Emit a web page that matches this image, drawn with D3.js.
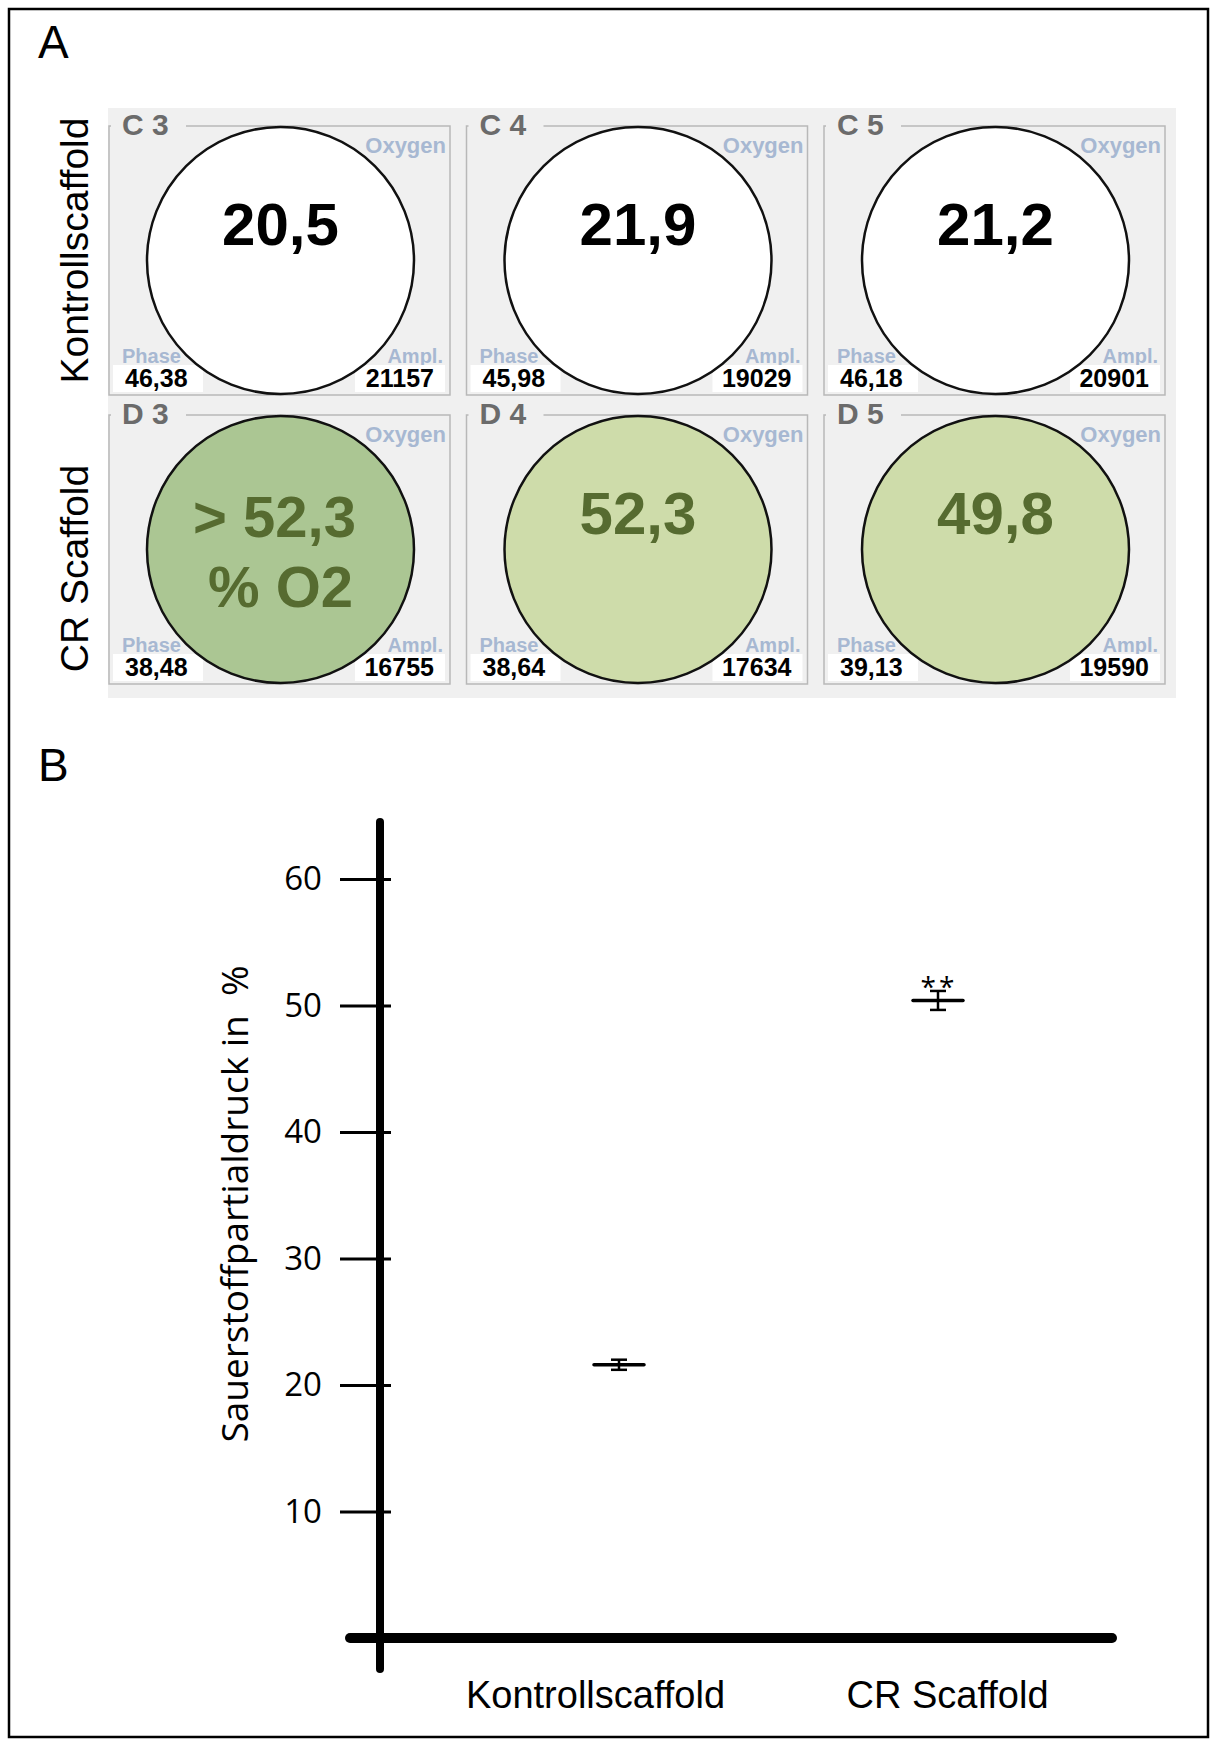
<!DOCTYPE html>
<html>
<head>
<meta charset="utf-8">
<script src="https://cdn.jsdelivr.net/npm/d3@7"></script>
<style>
body { margin: 0; background: #fff; }
svg text { font-family: "Liberation Sans", Arial, sans-serif; }
</style>
</head>
<body>
<div id="fig"></div>
<script>
//-----------------------------DATA-----------------------------//
// panel A: sensor plate readout
const wellRows = ["Kontrollscaffold", "CR Scaffold"];
const wellCols = ["3", "4", "5"];
const wellNames = ["C 3", "C 4", "C 5", "D 3", "D 4", "D 5"];
const o2Readings = [["20,5"], ["21,9"], ["21,2"], ["> 52,3", "% O2"], ["52,3"], ["49,8"]];
const phaseValues = ["46,38", "45,98", "46,18", "38,48", "38,64", "39,13"];
const amplValues = ["21157", "19029", "20901", "16755", "17634", "19590"];
const overRange = [false, false, false, true, false, false];

// panel B: mean +- error
const groups = ["Kontrollscaffold", "CR Scaffold"];
const means = [21.6, 50.4];
const errors = [0.4, 0.75];
const stars = ["", "**"];
const yTicks = [10, 20, 30, 40, 50, 60];

const W = 1216, H = 1745;
const svg = d3.select("#fig").append("svg")
    .attr("width", W)
    .attr("height", H);

// outer frame
svg.append("rect")
    .attr("x", 9).attr("y", 9)
    .attr("width", 1199).attr("height", 1728)
    .attr("fill", "none")
    .attr("stroke", "#000")
    .attr("stroke-width", 2.5);

svg.append("text").attr("x", 38).attr("y", 58)
    .attr("font-size", 46).text("A");
svg.append("text").attr("x", 38).attr("y", 781)
    .attr("font-size", 46).text("B");

//---------------------------PANEL A----------------------------//
const colScale = d3.scaleBand().domain(wellCols).range([109, 1165]).paddingInner(0.0462);
const rowScale = d3.scaleBand().domain(wellRows).range([126, 684]).paddingInner(0.0692);
const bw = colScale.bandwidth(), bh = rowScale.bandwidth();

svg.append("rect")
    .attr("x", 108).attr("y", 108)
    .attr("width", 1068).attr("height", 590)
    .attr("fill", "#f0f0f0");

// row labels
svg.selectAll(".rowlab")
    .data(wellRows)
    .enter()
    .append("text")
    .attr("class", "rowlab")
    .attr("transform", d => "translate(88," + (rowScale(d) + bh / 2 + (d == "CR Scaffold" ? 19 : -10)) + ") rotate(-90)")
    .attr("text-anchor", "middle")
    .attr("font-size", 39)
    .text(d => d);

const wells = svg.selectAll(".well")
    .data(wellNames.map((n, i) => ({
        name: n, row: wellRows[Math.floor(i / 3)], col: wellCols[i % 3],
        lines: o2Readings[i], phase: phaseValues[i], ampl: amplValues[i], over: overRange[i]
    })))
    .enter()
    .append("g")
    .attr("class", "well")
    .attr("transform", d => "translate(" + colScale(d.col) + "," + rowScale(d.row) + ")");

wells.append("rect")
    .attr("width", bw).attr("height", bh)
    .attr("fill", "none")
    .attr("stroke", "#b8b8b8")
    .attr("stroke-width", 1.5);

// gap in the frame line behind the well name
wells.append("rect")
    .attr("x", 2).attr("y", -4)
    .attr("width", 75).attr("height", 8)
    .attr("fill", "#f0f0f0");

wells.append("text")
    .attr("x", 13).attr("y", 9)
    .attr("font-size", 30)
    .attr("font-weight", "bold")
    .attr("fill", "#6b6b6b")
    .text(d => d.name);

wells.append("text")
    .attr("x", bw - 4).attr("y", 27)
    .attr("text-anchor", "end")
    .attr("font-size", 22)
    .attr("font-weight", "bold")
    .attr("fill", "#a7b8d2")
    .text("Oxygen");

wells.append("text")
    .attr("x", 13).attr("y", bh - 32)
    .attr("font-size", 20)
    .attr("font-weight", "bold")
    .attr("fill", "#a7b8d2")
    .text("Phase");

wells.append("text")
    .attr("x", bw - 7).attr("y", bh - 32)
    .attr("text-anchor", "end")
    .attr("font-size", 20)
    .attr("font-weight", "bold")
    .attr("fill", "#a7b8d2")
    .text("Ampl.");

wells.append("rect")
    .attr("x", 4).attr("y", bh - 30)
    .attr("width", 90).attr("height", 27)
    .attr("fill", "#fff");

wells.append("rect")
    .attr("x", bw - 95).attr("y", bh - 30)
    .attr("width", 90).attr("height", 27)
    .attr("fill", "#fff");

wells.append("text")
    .attr("x", 16).attr("y", bh - 8)
    .attr("font-size", 25)
    .attr("font-weight", "bold")
    .text(d => d.phase);

wells.append("text")
    .attr("x", bw - 16).attr("y", bh - 8)
    .attr("text-anchor", "end")
    .attr("font-size", 25)
    .attr("font-weight", "bold")
    .text(d => d.ampl);

wells.append("circle")
    .attr("cx", bw / 2 + 1)
    .attr("cy", bh / 2)
    .attr("r", 133.5)
    .attr("fill", d => d.row == "Kontrollscaffold" ? "#ffffff" : (d.over ? "#abc693" : "#cedcaa"))
    .attr("stroke", "#111")
    .attr("stroke-width", 2.5);

wells.each(function(d) {
    const g = d3.select(this);
    const fs = d.lines.length > 1 ? 58 : 60;
    d.lines.forEach(function(t, k) {
        g.append("text")
            .attr("x", bw / 2 + 1 + (d.lines.length > 1 && k == 0 ? -6 : 0))
            .attr("y", (d.lines.length > 1 ? 122 : 119) + k * 70)
            .attr("text-anchor", "middle")
            .attr("font-size", fs)
            .attr("font-weight", "bold")
            .attr("fill", d.row == "Kontrollscaffold" ? "#000" : "#566b30")
            .text(t);
    });
});

//---------------------------PANEL B----------------------------//
const yScale = d3.scaleLinear().domain([0, 60]).range([1638, 879]);
const xScale = d3.scalePoint().domain(groups).range([619, 938]);
const xLabel = d3.scalePoint().domain(groups).range([595, 947]);

const yAxis = d3.axisLeft(yScale)
    .tickValues(yTicks)
    .tickSize(51)
    .tickPadding(18)
    .tickFormat(d3.format("d"));

const yg = svg.append("g")
    .attr("transform", "translate(391,0)")
    .call(yAxis);
yg.select(".domain").remove();
yg.selectAll(".tick line").attr("stroke", "#000").attr("stroke-width", 3);
yg.selectAll(".tick text")
    .attr("fill", "#000")
    .style("font-family", "'Open Sans', sans-serif")
    .style("font-size", "33px");

const xg = svg.append("g")
    .attr("transform", "translate(0,1638)")
    .call(d3.axisBottom(xLabel).tickSize(0).tickPadding(0));
xg.select(".domain").remove();
xg.selectAll(".tick text")
    .attr("y", 70).attr("dy", 0)
    .attr("fill", "#000")
    .style("font-family", "'Liberation Sans', Arial, sans-serif")
    .style("font-size", "38px");

// thick axis lines
svg.append("line")
    .attr("x1", 380).attr("x2", 380)
    .attr("y1", 822).attr("y2", 1669)
    .attr("stroke", "#000").attr("stroke-width", 8)
    .attr("stroke-linecap", "round");
svg.append("line")
    .attr("x1", 350).attr("x2", 1112)
    .attr("y1", yScale(0)).attr("y2", yScale(0))
    .attr("stroke", "#000").attr("stroke-width", 10)
    .attr("stroke-linecap", "round");

svg.append("text")
    .attr("transform", "translate(248,1204) rotate(-90)")
    .attr("text-anchor", "middle")
    .style("font-family", "'Open Sans', sans-serif")
    .style("font-size", "37px")
    .text("Sauerstoffpartialdruck in\u00a0 %");

// mean markers with error bars
const pts = svg.selectAll(".pt")
    .data(groups.map((g, i) => ({ g: g, m: means[i], e: errors[i], s: stars[i] })))
    .enter()
    .append("g")
    .attr("class", "pt");

pts.append("line")
    .attr("x1", d => xScale(d.g)).attr("x2", d => xScale(d.g))
    .attr("y1", d => yScale(d.m + d.e)).attr("y2", d => yScale(d.m - d.e))
    .attr("stroke", "#000").attr("stroke-width", 2.5);
[1, -1].forEach(function(sgn) {
    pts.append("line")
        .attr("x1", d => xScale(d.g) - 8).attr("x2", d => xScale(d.g) + 8)
        .attr("y1", d => yScale(d.m + sgn * d.e)).attr("y2", d => yScale(d.m + sgn * d.e))
        .attr("stroke", "#000").attr("stroke-width", 2.5);
});
pts.append("line")
    .attr("x1", d => xScale(d.g) - 25).attr("x2", d => xScale(d.g) + 25)
    .attr("y1", d => yScale(d.m)).attr("y2", d => yScale(d.m))
    .attr("stroke", "#000").attr("stroke-width", 3.5)
    .attr("stroke-linecap", "round");
pts.append("text")
    .attr("x", d => xScale(d.g) + 1)
    .attr("y", d => yScale(d.m + d.e) + 6)
    .attr("text-anchor", "middle")
    .attr("letter-spacing", 3)
    .style("font-family", "'Open Sans', sans-serif")
    .style("font-size", "28px")
    .text(d => d.s);
</script>
</body>
</html>
